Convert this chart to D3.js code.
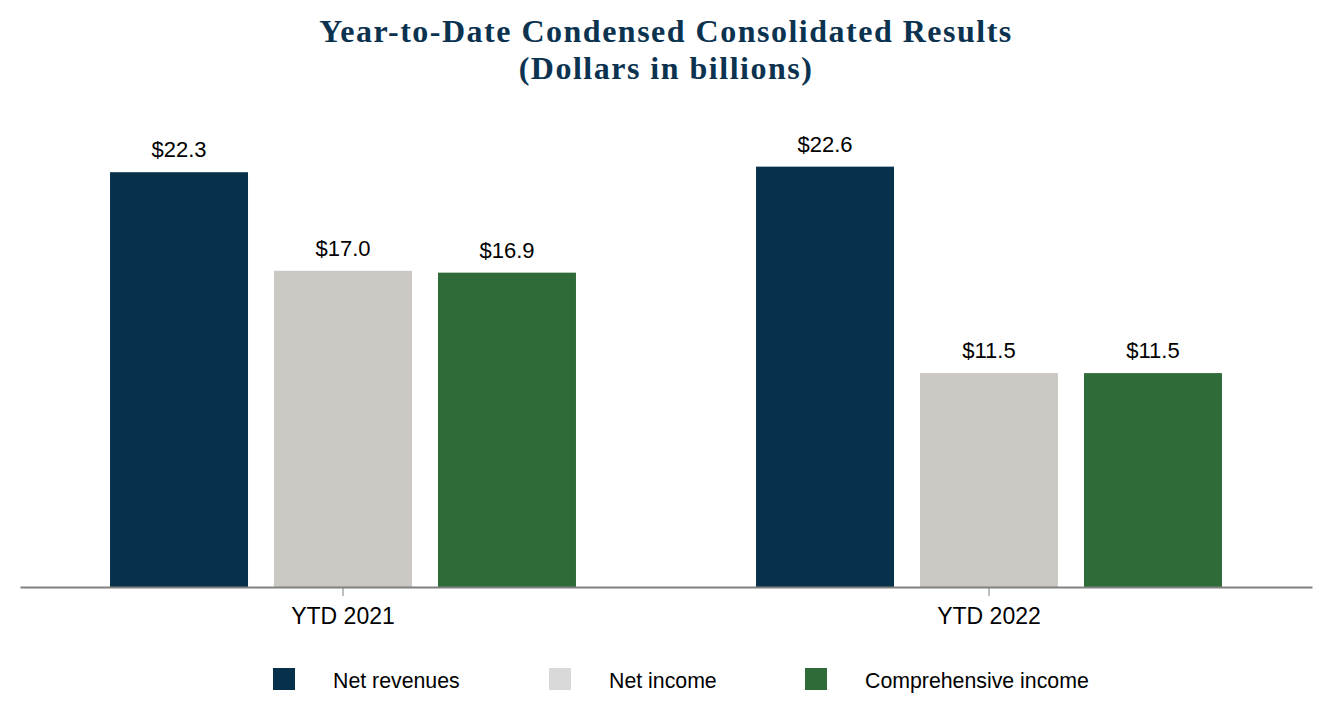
<!DOCTYPE html>
<html>
<head>
<meta charset="utf-8">
<script src="https://cdn.jsdelivr.net/npm/d3@7/dist/d3.min.js"></script>
<style>
  html, body { margin: 0; padding: 0; background: #fff; }
  svg { display: block; }
</style>
</head>
<body>
<svg id="chart" width="1332" height="720"></svg>
<script>
// ---- Data ----
const titleLines = ["Year-to-Date Condensed Consolidated Results", "(Dollars in billions)"];
const categories = ["YTD 2021", "YTD 2022"];
const seriesNames = ["Net revenues", "Net income", "Comprehensive income"];
const netRevenues = [22.3, 22.6];
const netIncome = [17.0, 11.5];
const comprehensiveIncome = [16.9, 11.5];
const seriesValues = [netRevenues, netIncome, comprehensiveIncome];

// ---- Styles ----
const barColors = ["#07304b", "#cbc8c3", "#2e6b38"];
const legendColors = ["#07304b", "#d9d9d9", "#2e6b38"];
const titleColor = "#0b3350";
const sansFont = "'Liberation Sans', Arial, sans-serif";

const svg = d3.select("#chart");

const baseY = 587;
const x0 = d3.scaleBand().domain(categories).range([20, 1312]).paddingInner(0).paddingOuter(0);
const x1 = d3.scaleBand().domain(seriesNames).range([0, x0.bandwidth()]).paddingInner(0.1585).paddingOuter(0.549);
const y = d3.scaleLinear().domain([0, 25]).range([baseY, baseY - 25 * 18.6]);

// Title
const title = svg.append("g");
titleLines.forEach((t, i) => {
  title.append("text")
    .attr("x", 666)
    .attr("y", 42 + i * 37)
    .attr("text-anchor", "middle")
    .attr("font-family", "'Liberation Serif', Georgia, serif")
    .attr("font-weight", "bold")
    .attr("font-size", 32)
    .attr("fill", titleColor)
    .text(t);
});
// small letter spacing so the first line spans ~692px
{
  const first = title.select("text");
  const w = first.node().getComputedTextLength();
  const n = titleLines[0].length;
  const ls = Math.max(0, Math.min(2, (692 - w) / (n - 1)));
  title.selectAll("text").attr("letter-spacing", ls);
}

// Bars
const data = [];
categories.forEach((c, ci) => {
  seriesNames.forEach((s, si) => {
    data.push({ cat: c, series: s, si, value: seriesValues[si][ci] });
  });
});

const g = svg.append("g");
g.selectAll("rect.bar")
  .data(data)
  .join("rect")
  .attr("class", "bar")
  .attr("x", d => x0(d.cat) + x1(d.series))
  .attr("y", d => y(d.value))
  .attr("width", x1.bandwidth())
  .attr("height", d => y(0) - y(d.value))
  .attr("fill", d => barColors[d.si]);

g.selectAll("text.val")
  .data(data)
  .join("text")
  .attr("class", "val")
  .attr("x", d => x0(d.cat) + x1(d.series) + x1.bandwidth() / 2)
  .attr("y", d => y(d.value) - 15)
  .attr("text-anchor", "middle")
  .attr("font-family", sansFont)
  .attr("font-size", 22)
  .attr("fill", "#000")
  .text(d => "$" + d.value.toFixed(1));

// X axis
const axis = svg.append("g")
  .attr("transform", `translate(0,${baseY})`)
  .call(d3.axisBottom(x0).tickSize(9).tickSizeOuter(0).tickPadding(12));
axis.select(".domain").attr("stroke", "#808080").attr("stroke-width", 2);
axis.selectAll(".tick line").attr("stroke", "#808080").attr("stroke-width", 1);
axis.selectAll(".tick text")
  .attr("font-family", sansFont)
  .attr("font-size", 23)
  .attr("fill", "#000");

// Legend
const legendX = [273, 549, 805];
const legend = svg.append("g");
seriesNames.forEach((s, i) => {
  legend.append("rect")
    .attr("x", legendX[i])
    .attr("y", 668)
    .attr("width", 22)
    .attr("height", 22)
    .attr("fill", legendColors[i]);
  legend.append("text")
    .attr("x", legendX[i] + 60)
    .attr("y", 688)
    .attr("font-family", sansFont)
    .attr("font-size", 21.3)
    .attr("fill", "#000")
    .text(s);
});
</script>
</body>
</html>
